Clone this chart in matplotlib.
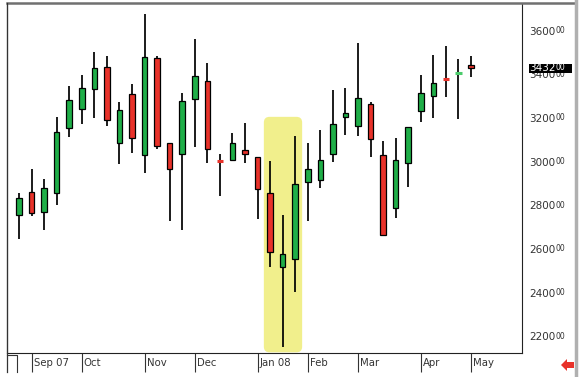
import matplotlib
matplotlib.use("Agg")
import matplotlib.pyplot as plt
from matplotlib.patches import Rectangle, FancyBboxPatch, Polygon
from matplotlib.lines import Line2D
from matplotlib.transforms import offset_copy

W, H = 580, 377

# weekly OHLC, Sep 07 - May 08
opens = [276000, 286400, 277200, 286200, 315700, 324600, 333700, 344000, 309100, 331300,
         303500, 347800, 308900, 304100, 329000, 337500, 301000, 301200, 305800, 302400,
         286000, 252300, 255900, 291000, 292000, 303800, 321100, 317000, 326900, 303500,
         279100, 299700, 323800, 330500, 338700, 340600, 344700]
highs = [286000, 297000, 292400, 320800, 335100, 340200, 350800, 348900, 327900, 336000,
         368000, 349000, 309100, 332000, 356500, 345800, 304000, 313700, 318000, 302700,
         300800, 276000, 312200, 309100, 315000, 333300, 334100, 354700, 327900, 310100,
         311200, 316500, 340200, 349300, 353400, 347500, 348900]
lows = [264900, 275700, 269100, 280600, 311900, 317700, 320600, 316800, 299400, 304300,
        295400, 306300, 273400, 269100, 307200, 299700, 284700, 300800, 299700, 274000,
        252300, 215400, 240600, 273400, 288200, 300400, 312700, 312400, 302400, 266400,
        274500, 289000, 318800, 320600, 329900, 319900, 339100]
closes = [283700, 276800, 288200, 314200, 328700, 334100, 343200, 319500, 324100, 311400,
          348300, 307800, 297100, 328200, 339700, 306400, 300600, 309100, 303800, 287800,
          258900, 258300, 290200, 297100, 301200, 317800, 322900, 329800, 310700, 266800,
          301200, 316200, 332000, 336600, 338300, 341000, 343200]

month_labels = ["Sep 07", "Oct", "Nov", "Dec", "Jan 08", "Feb", "Mar", "Apr", "May"]
month_bars = [1, 5, 10, 14, 19, 23, 27, 32, 36]
price_ticks = [220000, 240000, 260000, 280000, 300000, 320000, 340000, 360000]
last_price = 343200

# highlighted weeks (January sell-off)
hl_first, hl_last, hl_top = 20, 22, 321000

GREEN = "#1fae48"
GREEN_LT = "#4ccc6c"
RED = "#e8322a"
YELLOW = "#f1ef8c"
TXT = "#333333"


def fx(px):
    return px / W


def fy(py):
    return 1 - py / H


fig = plt.figure(figsize=(W / 100, H / 100), dpi=100)
fig.patch.set_facecolor("white")
ax = fig.add_axes([fx(7), fy(353), fx(515), 349 / H])

x_lo, x_hi = -0.956, 40.06
y_lo, y_hi = 212800, 372700
ax.set_xlim(x_lo, x_hi)
ax.set_ylim(y_lo, y_hi)

# yellow highlight box, rounded corners
asp = (y_hi - y_lo) / 349 * (515 / (x_hi - x_lo))
box = FancyBboxPatch((hl_first - 0.5, y_lo + 300), (hl_last - hl_first) + 1.05, hl_top - y_lo - 300,
                     boxstyle="round,pad=0,rounding_size=0.45", mutation_aspect=asp,
                     fc=YELLOW, ec="none", zorder=1)
ax.add_patch(box)

# candles
bw = 0.44
for i, (o, h, l, c) in enumerate(zip(opens, highs, lows, closes)):
    ax.vlines(i, l, h, color="black", lw=1.25, zorder=2)
    if abs(c - o) < 1000:
        col = GREEN_LT if c >= o else RED
        ax.hlines(c, i - 0.27, i + 0.27, color=col, lw=2.2, zorder=3)
        continue
    col = GREEN if c > o else RED
    ax.add_patch(Rectangle((i - bw / 2, min(o, c)), bw, abs(c - o),
                           fc=col, ec="black", lw=0.9, zorder=3))

# spines / frame
for s in ["left", "right", "bottom"]:
    ax.spines[s].set_color("#222222")
    ax.spines[s].set_linewidth(0.8)
ax.spines["top"].set_visible(False)
ax.set_yticks([])

ax.set_xticks(month_bars)
ax.tick_params(axis="x", direction="out", length=13.7, width=0.8, color="#333333",
               labelbottom=False)
for b, lab in zip(month_bars, month_labels):
    tr = offset_copy(ax.get_xaxis_transform(), fig, x=2, y=-10.5, units="dots")
    ax.text(b, 0, lab, transform=tr, ha="left", va="center", fontsize=7.3,
            color=TXT, clip_on=False)

# price labels on the right, last two digits raised and small
ytr = ax.get_yaxis_transform()
for v in price_ticks:
    s = str(v)
    ax.text(1, v, s[:-2], transform=offset_copy(ytr, fig, x=7, y=0, units="dots"),
            ha="left", va="center", fontsize=7.5, color=TXT, clip_on=False)
    ax.text(1, v, s[-2:], transform=offset_copy(ytr, fig, x=34, y=1.2, units="dots"),
            ha="left", va="center", fontsize=5.5, color=TXT, clip_on=False)

# last price box
ax.add_patch(Rectangle((1 + 7 / 515, last_price - 1925), 43 / 515, 3850, transform=ytr,
                       fc="black", ec="none", clip_on=False, zorder=5))
s = str(last_price)
ax.text(1, last_price, s[:-2], transform=offset_copy(ytr, fig, x=7, y=0, units="dots"),
        ha="left", va="center", fontsize=7.5, color="white", clip_on=False, zorder=6)
ax.text(1, last_price, s[-2:], transform=offset_copy(ytr, fig, x=34, y=1.2, units="dots"),
        ha="left", va="center", fontsize=5.5, color="white", clip_on=False, zorder=6)

# outer decoration
fig.add_artist(Line2D([fx(7), fx(576)], [fy(3), fy(3)], color="#707070", lw=1.8))
fig.add_artist(Line2D([fx(7), fx(7)], [fy(3), fy(372)], color="#333333", lw=0.9))
fig.add_artist(Line2D([fx(7), fx(17), fx(17)], [fy(355), fy(355), fy(372)],
                      color="#333333", lw=0.8))
fig.add_artist(Line2D([fx(576), fx(576)], [fy(0), fy(377)], color="#b0b0b0", lw=2.5))
arrow = [(561, 365), (567, 359), (567, 362), (574, 362), (574, 368), (567, 368), (567, 371)]
fig.add_artist(Polygon([(fx(a), fy(b)) for a, b in arrow], closed=True, fc=RED, ec="none"))

fig.savefig("out.png", dpi=100)
